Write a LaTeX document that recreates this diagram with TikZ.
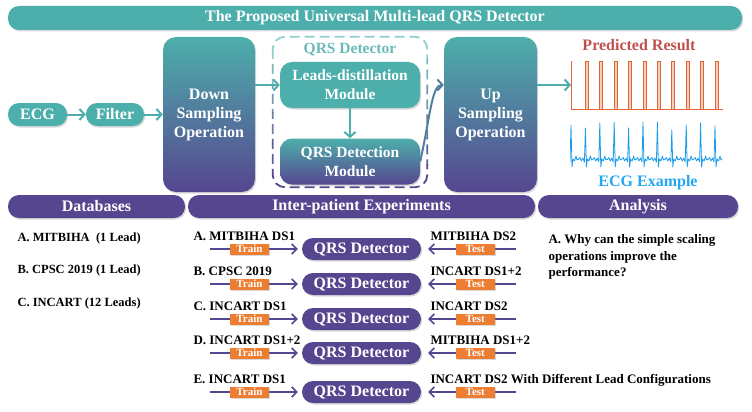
\documentclass[tikz,border=0pt]{standalone}
\usepackage{fontspec}
\setmainfont{Liberation Serif}
\usetikzlibrary{arrows.meta,shadows}
\definecolor{tealc}{HTML}{4DAFAB}
\definecolor{teall}{HTML}{8FD0CD}
\definecolor{purp}{HTML}{56468F}
\definecolor{trainc}{HTML}{ED7D31}
\definecolor{predc}{HTML}{C0504D}
\definecolor{pulsec}{HTML}{E0663A}
\definecolor{pulsef}{HTML}{F7CDBB}
\definecolor{ecgc}{HTML}{1E9CEA}
\definecolor{ecgtext}{HTML}{22A8F0}
\begin{document}
\begin{tikzpicture}[x=1pt, y=-1pt,
    every node/.style={font=\bfseries},
    big/.style={font=\fontsize{16}{19}\selectfont\bfseries},
    softshadow/.style={drop shadow={shadow xshift=1.2pt, shadow yshift=-1.5pt, opacity=0.3}},
    bar/.style={big, rectangle, rounded corners=11pt, text=white, minimum height=23pt, inner sep=0pt, softshadow},
    titlebar/.style={bar, fill=tealc, minimum height=24pt},
    headbar/.style={bar, fill=purp},
    pill/.style={bar, fill=tealc},
    opbox/.style={big, rectangle, rounded corners=13pt, text=white, top color=tealc, bottom color=purp, minimum width=92pt, minimum height=155pt, inner sep=0pt, align=center, softshadow},
    modbox/.style={rectangle, rounded corners=12pt, text=white, minimum width=140pt, minimum height=46pt, inner sep=0pt, align=center, font=\fontsize{15.5}{19}\selectfont\bfseries, softshadow},
    dashbox/.style={dash pattern=on 10pt off 5pt, line width=1.8pt, rounded corners=12pt},
    flow/.style={tealc, line width=2pt, -{Straight Barb[length=5pt,width=11pt]}},
    detector/.style={bar, fill=purp, minimum width=119pt, minimum height=22pt},
    feed/.style={purp, line width=1.5pt, -{Straight Barb[length=5pt,width=10pt]}},
    tagbox/.style={rectangle, fill=trainc, text=white, font=\fontsize{11}{11}\selectfont\bfseries, minimum width=39pt, minimum height=11pt, inner sep=0pt, softshadow},
    item/.style={anchor=base west, font=\fontsize{12.5}{15}\selectfont\bfseries},
    expl/.style={anchor=base west, font=\fontsize{13}{16.5}\selectfont\bfseries}
  ]
  \useasboundingbox (0,0) rectangle (752,412);

  \node[titlebar, minimum width=734pt] (title) at (375,18) {The Proposed Universal Multi-lead QRS Detector};

  \node[pill, minimum width=59pt] (ecg) at (37.5,114.5) {ECG};
  \node[pill, minimum width=58pt] (filter) at (115,114.5) {Filter};
  \node[opbox] (down) at (209,114.5) {Down\\Sampling\\Operation};
  \node[minimum width=154pt, minimum height=150pt, inner sep=0pt] (qbox) at (350,112) {};
  \foreach \k in {0,...,5} {
    \pgfmathtruncatemacro{\mix}{100-20*\k}
    \begin{scope}
      \clip (265,{34+26*\k}) rectangle (435,{34+26*(\k+1)});
      \draw[dashbox, draw=teall!\mix!purp] (qbox.north west) rectangle (qbox.south east);
    \end{scope}
  }
  \node[big, text=tealc!85!white, font=\fontsize{15.5}{19}\selectfont\bfseries] (qlabel) at (350,50) {QRS Detector};
  \node[modbox, fill=tealc] (lead) at (350,85) {Leads-distillation\\Module};
  \node[modbox, top color=tealc, bottom color=purp] (qmod) at (350,161.5) {QRS Detection\\Module};
  \node[opbox, minimum width=93pt] (up) at (490.5,114.5) {Up\\Sampling\\Operation};

  \draw[flow] (ecg) -- (filter);
  \draw[flow] (filter) -- (down);
  \draw[flow] (down.east |- lead.west) -- (lead);
  \draw[flow] (lead) -- (qmod);
  \draw[flow, draw=tealc!55!purp] (qmod.east) .. controls +(10,-45) and +(-12,0) .. (up.west |- lead.west);

  \node[big, text=predc] (predlabel) at (639,45) {Predicted Result};
  \coordinate (pred) at (571,85);
  \draw[flow] (up.east |- lead.west) -- (pred);
  \draw[pulsec, line width=0.9pt] (571,61) -- (571,109) -- (723,109);
  \foreach \k in {1,...,10} {
    \filldraw[draw=pulsec, fill=pulsef, line width=0.9pt] ({571+14.4*\k},109) -- ++(0,-48) -- ++(3,0) -- ++(0,48);
  }

  \begin{scope}
    \clip (570,115) rectangle (724,172);
    \foreach \k/\h in {0/125,1/128,2/123,3/122,4/128,5/122,6/122,7/130,8/125,9/123,10/126} {
      \pgfmathsetmacro{\xx}{571+14.4*\k}
      \draw[ecgc, line width=0.8pt, line join=round] ({\xx-7.2},160) -- ({\xx-5.5},157.5) -- ({\xx-4},161) -- ({\xx-2.5},158)
        -- ({\xx-1},162) -- (\xx,\h) -- ({\xx+1},167) -- ({\xx+2},159) -- ({\xx+3.5},161) -- ({\xx+5},156) -- ({\xx+6},160) -- ({\xx+7.2},159);
    }
  \end{scope}
  \node[big, text=ecgtext] (ecglabel) at (648,183) {ECG Example};

  \node[headbar, minimum width=177pt] (dbhead) at (96.5,206.5) {Databases};
  \node[headbar, minimum width=347pt] (exphead) at (361.5,206.5) {Inter-patient Experiments};
  \node[headbar, minimum width=200pt] (anhead) at (638,206.5) {Analysis};

  \node[item] (dbA) at (14,241) {A. MITBIHA \ (1 Lead)};
  \node[item] (dbB) at (14,273) {B. CPSC 2019 (1 Lead)};
  \node[item] (dbC) at (14,306) {C. INCART (12 Leads)};

  \foreach \row/\y/\tr/\te in {A/249/A. MITBIHA DS1/MITBIHA DS2, B/284/B. CPSC 2019/INCART DS1+2, C/319/C. INCART DS1/INCART DS2, D/353/D. INCART DS1+2/MITBIHA DS1+2, E/392/E. INCART DS1/INCART DS2 With Different Lead Configurations} {
    \node[detector] (det\row) at (361.5,\y) {QRS Detector};
    \node[expl] (train\row) at (190,\y-9) {\tr};
    \node[expl] (test\row) at (427,\y-9) {\te};
    \coordinate (trsrc\row) at (210,\y);
    \coordinate (tesrc\row) at (516,\y);
    \draw[feed, shorten >=4pt] (trsrc\row) -- node[tagbox, pos=0.43] (trtag\row) {Train} (det\row);
    \draw[feed, shorten >=7pt] (tesrc\row) -- node[tagbox, pos=0.43] (tetag\row) {Test} (det\row);
  }

  \node[expl, anchor=north west, align=left] (anA) at (545,231) {A. Why can the simple scaling\\operations improve the\\performance?};
\end{tikzpicture}
\end{document}
